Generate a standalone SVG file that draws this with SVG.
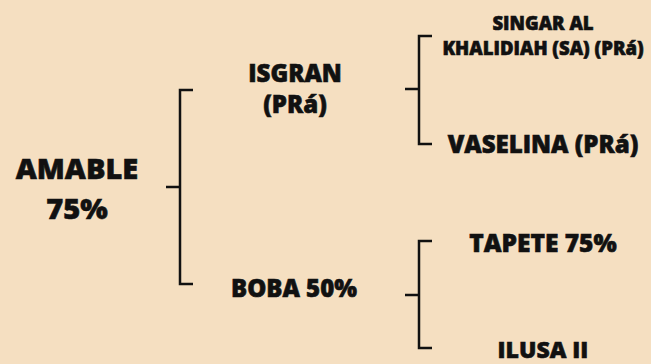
<svg xmlns="http://www.w3.org/2000/svg" width="651" height="364" viewBox="0 0 651 364">
<style>
.t{font-family:"Open Sans","Noto Sans",sans-serif;font-weight:800;fill:#111;stroke:#111;stroke-width:0.6;text-anchor:middle}
.c{fill:none;stroke:#111;stroke-width:2.5;stroke-linecap:butt;stroke-linejoin:miter}
</style>
<rect width="651" height="364" fill="#F5DFC1"/>
<g id="connectors">
<path class="c" d="M193,90 H180 V284 H193 M166,187 H180"/>
<path class="c" d="M432,36 H419 V144 H432 M405,89 H419"/>
<path class="c" d="M432,241 H419 V348 H432 M405,295 H419"/>
</g>
<g id="amable"><text class="t" x="77" y="179" font-size="29">AMABLE</text><text class="t" x="77" y="219" font-size="29">75%</text></g>
<g id="isgran"><text class="t" x="295" y="82" font-size="24">ISGRAN</text><text class="t" x="295" y="113" font-size="24">(PRá)</text></g>
<g id="boba"><text class="t" x="294" y="297" font-size="24">BOBA 50%</text></g>
<g id="singar"><text class="t" x="543" y="30" font-size="18.5">SINGAR AL</text><text class="t" x="543" y="55" font-size="18.5">KHALIDIAH (SA) (PRá)</text></g>
<g id="vaselina"><text class="t" x="543" y="153" font-size="24">VASELINA (PRá)</text></g>
<g id="tapete"><text class="t" x="543" y="252" font-size="24.5">TAPETE 75%</text></g>
<g id="ilusa"><text class="t" x="543" y="358" font-size="23">ILUSA II</text></g>
</svg>
